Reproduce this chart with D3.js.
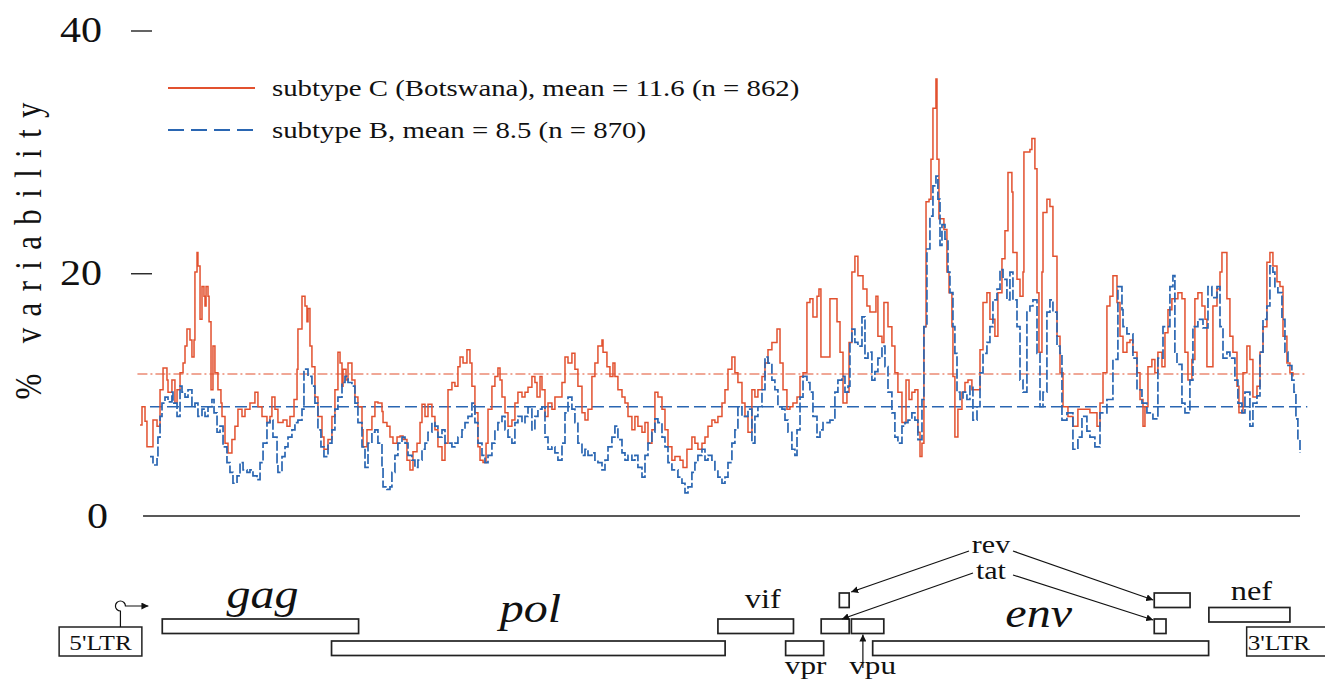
<!DOCTYPE html>
<html>
<head>
<meta charset="utf-8">
<script src="https://cdn.jsdelivr.net/npm/d3@7"></script>
<style>
  body { margin: 0; background: #fff; }
  svg { display: block; font-family: "Liberation Serif", "Times New Roman", serif; }
</style>
</head>
<body>
<div id="chart"></div>
<script>
// sliding-window variability along the HXB2 genome (position in nt)

// subtype C (Botswana)
const posC = [620,635,658,673,696,719,750,773,796,826,834,864,887,903,926,949,964,979,1002,1017,1033,1040,1056,1063,1079,1094,1109,1117,1125,1140,1148,1163,1178,1193,1216,1239,1247,1270,1293,1323,1346,1369,1400,1423,1461,1499,1522,1553,1591,1614,1629,1652,1675,1714,1744,1767,1798,1821,1828,1859,1882,1897,1905,1920,1935,1958,1981,2012,2027,2058,2088,2111,2134,2150,2165,2173,2196,2211,2241,2264,2287,2318,2326,2356,2394,2417,2440,2471,2479,2509,2532,2555,2586,2609,2632,2662,2685,2708,2739,2762,2777,2800,2823,2853,2876,2899,2930,2953,2976,3006,3029,3052,3068,3091,3121,3144,3159,3182,3205,3221,3244,3267,3282,3312,3335,3358,3374,3389,3412,3435,3465,3488,3511,3542,3565,3588,3618,3641,3657,3680,3695,3718,3741,3771,3794,3817,3848,3871,3894,3924,3947,3970,4001,4024,4047,4077,4100,4123,4154,4162,4192,4215,4238,4253,4276,4307,4330,4353,4383,4406,4429,4460,4483,4506,4536,4559,4582,4613,4636,4659,4689,4712,4751,4774,4804,4842,4865,4888,4919,4942,4965,4995,5018,5041,5072,5095,5118,5148,5171,5194,5225,5248,5271,5301,5324,5347,5378,5401,5424,5454,5493,5516,5539,5569,5592,5615,5646,5669,5692,5722,5745,5768,5799,5814,5829,5860,5898,5921,5952,5975,5998,6028,6044,6066,6089,6112,6151,6181,6204,6227,6250,6265,6296,6311,6342,6372,6395,6418,6449,6480,6503,6525,6548,6571,6587,6602,6617,6633,6656,6671,6686,6709,6717,6732,6755,6770,6793,6809,6831,6839,6854,6877,6908,6931,6954,6984,7023,7046,7069,7099,7122,7160,7183,7214,7237,7260,7290,7298,7329,7352,7375,7382,7428,7443,7466,7482,7497,7520,7528,7558,7581,7604,7635,7658,7681,7719,7757,7795,7834,7887,7941,7964,7987,8017,8040,8063,8094,8117,8140,8170,8193,8216,8247,8270,8293,8308,8331,8361,8384,8407,8438,8461,8484,8514,8560,8591,8614,8637,8667,8690,8713,8744,8767,8782,8805,8828,8859,8882,8897,8935,8958,8981,9012,9027,9058,9088,9111,9134,9165,9188,9211,9241,9264,9287,9318,9341,9364,9394,9417,9440];
const valC = [7.5,9.0,7.8,5.7,5.7,7.9,7.4,10.4,12.2,11.2,10.2,11.2,9.3,10.4,11.8,12.6,14.0,15.4,14.5,13.1,14.5,20.1,21.7,20.6,16.2,18.9,18.1,17.3,18.9,18.1,16.0,10.4,14.0,11.8,10.4,9.3,8.2,6.0,5.2,6.3,7.4,8.8,8.2,8.8,9.3,10.2,9.0,8.2,7.7,8.2,9.8,8.8,7.7,7.9,7.4,8.2,9.6,12.1,15.4,18.1,17.3,16.0,17.1,14.0,12.3,9.8,8.2,6.5,5.5,6.3,8.2,10.4,13.5,12.6,10.7,12.1,11.2,12.6,11.2,9.8,9.0,7.1,5.7,7.1,8.2,9.4,9.3,8.6,7.7,7.4,6.5,6.0,6.5,6.6,6.3,4.6,3.8,5.3,6.0,7.7,9.2,8.2,9.2,8.2,7.1,5.7,4.6,6.0,10.4,11.0,10.7,12.3,13.1,12.6,13.7,12.6,10.7,8.5,5.7,4.6,4.4,6.0,8.8,10.7,11.5,12.2,11.2,9.8,8.5,7.4,7.9,9.3,10.2,9.8,10.2,10.6,11.5,11.0,9.8,11.5,10.4,8.2,9.3,8.8,9.8,9.8,11.0,13.1,12.6,13.4,12.1,10.7,8.5,7.9,8.8,11.5,12.6,14.0,14.5,13.5,12.3,11.5,12.6,11.5,10.4,9.8,9.3,8.2,7.1,8.2,7.4,6.9,7.7,6.0,7.1,10.2,9.8,8.8,7.1,5.7,4.6,4.9,4.6,4.0,5.5,6.5,6.0,5.5,6.0,6.5,7.4,7.9,7.7,8.2,9.3,10.4,12.1,13.1,11.8,11.0,9.3,8.2,6.9,10.4,9.8,10.4,11.5,12.6,13.7,14.3,15.4,12.6,10.4,8.8,9.0,9.3,9.8,11.5,11.8,17.6,17.9,16.4,18.1,18.7,13.1,13.1,17.9,17.9,16.0,13.5,9.3,10.2,14.3,20.1,21.4,19.8,18.7,17.3,16.8,16.8,18.1,14.8,14.3,17.6,15.6,14.0,11.8,10.2,7.7,11.2,9.6,10.2,10.4,6.9,4.9,6.0,15.6,25.9,26.1,29.4,33.6,36.0,29.4,24.5,24.5,23.6,20.1,18.4,15.6,11.5,6.5,8.8,10.2,11.0,11.2,10.4,10.4,13.7,17.6,18.4,16.2,14.8,18.4,21.2,23.5,28.3,26.7,21.7,19.5,18.1,20.1,30.0,30.2,31.1,28.6,18.4,13.5,20.1,25.0,26.1,25.5,21.4,14.8,11.8,9.0,8.2,7.4,8.8,8.8,8.5,7.4,9.3,11.8,17.3,18.1,19.8,17.6,14.8,13.5,14.3,14.5,13.5,11.8,9.6,7.4,9.0,12.3,12.9,11.8,13.5,12.3,15.1,17.0,17.9,18.4,17.9,13.5,11.2,12.9,17.9,18.4,17.3,16.2,12.3,12.3,17.3,18.7,20.1,21.7,17.9,14.8,13.5,10.7,8.5,11.8,14.0,12.9,9.8,10.7,13.5,15.6,20.9,21.7,20.6,19.3,18.9,14.8,12.6,11.8,11.5];

// subtype B
const posB = [696,719,750,757,773,788,811,834,864,872,903,926,941,964,987,1017,1040,1063,1094,1117,1140,1170,1186,1209,1232,1255,1285,1308,1331,1362,1385,1408,1438,1461,1484,1515,1538,1561,1591,1614,1637,1668,1675,1706,1729,1752,1782,1805,1828,1859,1874,1905,1935,1958,1981,2004,2027,2058,2088,2111,2134,2165,2188,2211,2241,2264,2287,2318,2341,2364,2394,2417,2440,2471,2479,2509,2532,2547,2570,2593,2624,2647,2670,2700,2723,2746,2777,2800,2823,2853,2876,2899,2930,2953,2976,3006,3029,3052,3083,3106,3129,3159,3182,3205,3236,3259,3282,3312,3335,3358,3389,3412,3435,3465,3488,3511,3542,3565,3588,3618,3641,3664,3695,3718,3741,3771,3794,3817,3848,3871,3894,3924,3947,3970,4001,4024,4047,4077,4100,4123,4154,4177,4200,4230,4253,4276,4307,4330,4353,4383,4406,4429,4460,4483,4506,4536,4559,4582,4613,4636,4659,4689,4712,4735,4766,4789,4812,4842,4865,4888,4919,4942,4965,4995,5018,5041,5072,5095,5118,5148,5171,5194,5225,5248,5271,5301,5324,5347,5378,5401,5424,5454,5477,5500,5531,5554,5577,5607,5630,5646,5669,5692,5722,5745,5768,5799,5822,5845,5875,5898,5936,5959,5990,6013,6036,6051,6066,6089,6112,6143,6166,6189,6219,6242,6265,6296,6319,6342,6372,6395,6418,6449,6472,6495,6525,6548,6571,6602,6617,6640,6663,6686,6709,6724,6740,6755,6778,6801,6816,6839,6854,6870,6893,6916,6946,6969,6992,7023,7046,7069,7099,7122,7145,7176,7199,7222,7252,7275,7298,7329,7352,7375,7405,7428,7451,7482,7505,7528,7558,7581,7604,7635,7658,7673,7711,7757,7795,7826,7864,7887,7925,7964,8017,8063,8101,8132,8140,8170,8216,8247,8285,8323,8369,8407,8446,8499,8522,8537,8553,8591,8614,8652,8675,8713,8752,8790,8820,8859,8882,8905,8935,8958,8996,9019,9050,9073,9111,9134,9165,9188,9211,9241,9264,9287,9302,9325,9356,9379,9402,9432,9448,9463,9478,9494];
const valB = [4.9,4.2,4.9,6.5,8.2,9.3,9.8,9.4,10.2,9.3,8.2,10.7,10.2,9.8,10.4,9.0,9.3,8.2,8.8,8.2,9.0,9.6,8.5,6.9,7.4,5.7,4.4,3.6,2.7,3.3,4.4,3.8,3.6,3.8,3.3,3.0,4.4,6.0,7.7,7.9,6.5,4.4,3.6,4.9,5.7,6.5,7.1,7.7,7.9,8.8,12.1,11.5,10.7,9.3,7.1,5.7,4.9,6.0,7.1,8.8,9.8,11.0,11.5,11.0,10.7,9.3,7.7,5.7,4.0,6.0,6.9,7.1,6.0,4.0,2.4,2.2,2.4,3.6,5.0,6.0,6.5,6.0,5.0,4.6,4.0,4.6,5.5,6.0,6.9,7.7,7.4,6.5,7.1,6.0,6.0,5.7,6.0,6.5,7.1,7.7,8.2,9.3,7.7,6.0,5.0,4.4,5.0,6.0,7.1,7.7,8.2,7.1,6.5,6.0,7.7,8.2,7.7,8.2,9.0,7.1,8.2,8.8,9.0,6.5,5.5,5.7,5.2,4.6,6.0,8.5,9.8,8.8,7.7,6.0,5.0,5.5,5.0,5.2,4.6,4.4,3.8,4.6,5.7,6.5,7.4,6.3,5.2,4.6,5.0,4.6,5.0,4.0,3.2,5.0,6.0,6.9,8.0,7.7,6.5,5.7,4.4,3.8,3.8,3.2,2.7,1.9,2.4,3.6,4.4,5.0,5.5,4.6,5.0,4.6,3.8,3.2,2.7,3.2,4.4,6.0,7.1,9.0,8.2,8.2,8.8,6.0,8.2,9.0,10.4,13.1,12.6,11.2,10.4,9.0,8.8,7.9,6.9,5.5,5.0,7.1,9.8,11.5,11.0,10.2,8.2,6.5,7.1,7.7,7.7,7.9,10.2,11.2,11.5,10.2,10.7,14.3,15.4,14.3,14.0,16.4,13.0,13.5,11.2,11.9,13.0,14.0,12.3,10.2,8.5,6.5,6.0,7.4,7.7,7.9,8.5,7.9,6.3,9.6,15.6,22.0,24.7,27.2,28.0,26.1,22.3,24.0,22.8,20.1,18.4,15.6,13.4,10.2,9.6,10.2,9.6,10.7,7.9,9.0,11.8,13.4,14.3,15.6,17.8,18.7,20.3,19.5,17.8,20.1,17.8,15.6,11.2,10.2,16.8,17.3,17.8,13.4,9.0,10.2,16.8,17.8,16.8,14.0,13.4,7.9,8.5,5.5,6.5,8.2,7.0,6.5,5.7,8.5,9.6,12.9,18.9,17.0,15.6,15.0,13.0,10.4,9.3,8.5,8.0,13.0,15.6,18.9,19.8,13.5,12.5,9.3,8.5,11.2,15.6,16.2,15.5,18.9,18.0,18.9,15.6,13.0,13.5,13.0,11.2,9.3,8.5,10.2,7.4,9.3,9.9,13.5,16.2,17.3,20.6,20.1,18.9,18.4,16.2,13.5,12.4,11.2,10.2,8.0,6.3,5.2];

// means (legend) and the level at which the figure draws the mean lines
const meanC = 11.6, nC = 862;
const meanB = 8.5, nB = 870;
const meanLevelC = 11.7;
const meanLevelB = 9.0;

const yTicks = [0, 20, 40];

// genome map (HXB2 coordinates)
const orfNames = ["gag", "pol", "vif", "vpr", "tat", "rev", "vpu", "env", "tat", "rev", "nef"];
const orfStart = [790, 2085, 5041, 5559, 5831, 5970, 6062, 6225, 8379, 8379, 8797];
const orfEnd   = [2292, 5096, 5619, 5850, 6045, 6045, 6310, 8795, 8469, 8653, 9417];
const ltrNames = ["5'LTR", "3'LTR"];
const ltrStart = [1, 9086];
const ltrEnd   = [634, 9719];

const red = "#e2512f";
const blue = "#2a66b2";

const width = 1325, height = 679;

const svg = d3.select("#chart")
    .append("svg")
    .attr("width", width)
    .attr("height", height);

const x = d3.scaleLinear().domain([0, 9719]).range([59, 1329.4]);
const y = d3.scaleLinear().domain([0, 40]).range([516, 30.5]);

// the original figure is printed a bit wide; stretch text the same way
function widen(sel, k) {
    sel.each(function() {
        const w = this.getComputedTextLength();
        d3.select(this).attr("textLength", w * k).attr("lengthAdjust", "spacingAndGlyphs");
    });
}

svg.append("defs").append("marker")
    .attr("id", "arrow")
    .attr("viewBox", "0 0 10 10")
    .attr("refX", 10).attr("refY", 5)
    .attr("markerWidth", 7).attr("markerHeight", 7)
    .attr("markerUnits", "userSpaceOnUse")
    .attr("orient", "auto")
    .append("path")
    .attr("d", "M0,0 L10,5 L0,10 z")
    .attr("fill", "#111");

// y axis: numbers and short dashes, no spine
const yAxis = d3.axisLeft(y)
    .tickValues(yTicks)
    .tickSize(21)
    .tickPadding(29)
    .tickFormat(d3.format("d"));

const gy = svg.append("g")
    .attr("transform", "translate(152,0)")
    .call(yAxis);
gy.select(".domain").remove();
gy.selectAll(".tick line").attr("stroke", "#222").attr("stroke-width", 1.4);
gy.selectAll(".tick").filter(d => d === 0).select("line").remove();
gy.selectAll(".tick text")
    .attr("font-family", "Liberation Serif, serif")
    .attr("font-size", 35)
    .attr("fill", "#111");
gy.selectAll(".tick").filter(d => d === 0).select("text").attr("x", -44);
widen(gy.selectAll(".tick text"), 1.2);

// y label
svg.append("text")
    .attr("transform", "translate(41,251) scale(1.2,1) rotate(-90)")
    .attr("text-anchor", "middle")
    .attr("font-size", 31)
    .attr("fill", "#111")
    .attr("textLength", 297)
    .attr("lengthAdjust", "spacing")
    .text("% variability");

// baseline
const allPos = posC.concat(posB);
svg.append("line")
    .attr("x1", x(d3.min(allPos)) + 3)
    .attr("x2", x(d3.max(allPos)))
    .attr("y1", y(0)).attr("y2", y(0))
    .attr("stroke", "#222")
    .attr("stroke-width", 1.6);

// mean lines
svg.append("line")
    .attr("x1", x(600)).attr("x2", x(9550))
    .attr("y1", y(meanLevelC)).attr("y2", y(meanLevelC))
    .attr("stroke", red)
    .attr("stroke-width", 1.1)
    .attr("stroke-dasharray", "10,3,2,3");

svg.append("line")
    .attr("x1", x(696)).attr("x2", x(9550))
    .attr("y1", y(meanLevelB)).attr("y2", y(meanLevelB))
    .attr("stroke", blue)
    .attr("stroke-width", 1.7)
    .attr("stroke-dasharray", "12,5");

// series
const line = d3.line()
    .x(d => x(d[0]))
    .y(d => y(d[1]))
    .curve(d3.curveStepAfter);

svg.append("path")
    .datum(d3.zip(posC, valC))
    .attr("fill", "none")
    .attr("stroke", red)
    .attr("stroke-width", 1.5)
    .attr("d", line);

svg.append("path")
    .datum(d3.zip(posB, valB))
    .attr("fill", "none")
    .attr("stroke", blue)
    .attr("stroke-width", 1.7)
    .attr("stroke-dasharray", "10,2.5")
    .attr("d", line);

// legend
const legend = svg.append("g");
legend.append("line")
    .attr("x1", 168).attr("x2", 255).attr("y1", 88).attr("y2", 88)
    .attr("stroke", red).attr("stroke-width", 2);
legend.append("line")
    .attr("x1", 168).attr("x2", 255).attr("y1", 130).attr("y2", 130)
    .attr("stroke", blue).attr("stroke-width", 2)
    .attr("stroke-dasharray", "16,7");
const legendText = legend.selectAll("text.leg")
    .data([
        `subtype C (Botswana), mean = ${meanC} (n = ${nC})`,
        `subtype B, mean = ${meanB} (n = ${nB})`
    ])
    .enter()
    .append("text")
    .attr("class", "leg")
    .attr("x", 272)
    .attr("y", (d, i) => 96 + i * 42)
    .attr("font-size", 24)
    .attr("fill", "#111")
    .text(d => d);
widen(legendText, 1.2);

// genome map
const rowTop = { gag: 619, pol: 641, vif: 619, vpr: 641, tat: 619, rev: 593, vpu: 619, env: 641, nef: 607.5 };
const boxH = 14.5;

const map = svg.append("g");

map.selectAll("rect.orf")
    .data(d3.range(orfNames.length))
    .enter()
    .append("rect")
    .attr("class", "orf")
    .attr("x", i => x(orfStart[i]))
    .attr("y", i => rowTop[orfNames[i]])
    .attr("width", i => x(orfEnd[i]) - x(orfStart[i]))
    .attr("height", boxH)
    .attr("fill", "#fff")
    .attr("stroke", "#222")
    .attr("stroke-width", 1.7);

map.selectAll("rect.ltr")
    .data(d3.range(ltrNames.length))
    .enter()
    .append("rect")
    .attr("class", "ltr")
    .attr("x", i => x(ltrStart[i]))
    .attr("y", 627)
    .attr("width", i => x(ltrEnd[i]) - x(ltrStart[i]))
    .attr("height", 29)
    .attr("fill", "#fff")
    .attr("stroke", "#222")
    .attr("stroke-width", 1.5);

const ltrText = map.selectAll("text.ltr")
    .data(d3.range(ltrNames.length))
    .enter()
    .append("text")
    .attr("class", "ltr")
    .attr("x", i => (x(ltrStart[i]) + x(Math.min(ltrEnd[i], 9580))) / 2)
    .attr("y", 650)
    .attr("text-anchor", "middle")
    .attr("font-size", 21)
    .attr("fill", "#111")
    .text(i => ltrNames[i]);
widen(ltrText, 1.2);

// gene names
const labelLayout = [
    { name: "gag", y: 608, size: 40, italic: true, dx: 2 },
    { name: "pol", y: 622, size: 40, italic: true, dx: 2 },
    { name: "vif", y: 608, size: 27, italic: false, dx: 7 },
    { name: "vpr", y: 674, size: 26, italic: false, dx: 1 },
    { name: "vpu", y: 674, size: 26, italic: false, dx: 5 },
    { name: "env", y: 627, size: 40, italic: true, dx: -2 },
    { name: "nef", y: 600, size: 27, italic: false, dx: 2 }
];
const geneText = map.selectAll("text.gene")
    .data(labelLayout)
    .enter()
    .append("text")
    .attr("class", "gene")
    .attr("x", d => {
        const i = orfNames.indexOf(d.name);
        return (x(orfStart[i]) + x(orfEnd[i])) / 2 + d.dx;
    })
    .attr("y", d => d.y)
    .attr("text-anchor", "middle")
    .attr("font-size", d => d.size)
    .attr("font-style", d => d.italic ? "italic" : "normal")
    .attr("fill", "#111")
    .text(d => d.name);
widen(geneText, 1.2);

// rev / tat share one label with arrows to both exons
const splitX = x(7130);
const splitText = map.selectAll("text.split")
    .data([{ name: "rev", y: 553 }, { name: "tat", y: 579 }])
    .enter()
    .append("text")
    .attr("class", "split")
    .attr("x", splitX)
    .attr("y", d => d.y)
    .attr("text-anchor", "middle")
    .attr("font-size", 25)
    .attr("fill", "#111")
    .text(d => d.name);
widen(splitText, 1.2);

const exon = (name, k) => {
    const idx = orfNames.map((n, i) => n === name ? i : -1).filter(i => i >= 0);
    return idx[k];
};
const rev1 = exon("rev", 0), rev2 = exon("rev", 1), tat2 = exon("tat", 1);
const arrows = [
    [splitX - 22, 551, x(orfEnd[rev1]) + 2, rowTop.rev - 1],
    [splitX + 22, 551, x(orfStart[rev2]) - 1, rowTop.rev + 7],
    [splitX - 18, 573, x(5990), rowTop.tat],
    [splitX + 22, 575, x(orfStart[tat2]) - 1, rowTop.tat + 1],
    [x(6150), 668, x(6150), rowTop.vpu + boxH + 1]
];
map.selectAll("line.arrow")
    .data(arrows)
    .enter()
    .append("line")
    .attr("class", "arrow")
    .attr("x1", d => d[0]).attr("y1", d => d[1])
    .attr("x2", d => d[2]).attr("y2", d => d[3])
    .attr("stroke", "#111")
    .attr("stroke-width", 1.2)
    .attr("marker-end", "url(#arrow)");

// promoter symbol above the 5'LTR
const px = x(470);
map.append("path")
    .attr("d", `M${px},627 V611 A5,5 0 1,1 ${px + 5},606 H${px + 28}`)
    .attr("fill", "none")
    .attr("stroke", "#111")
    .attr("stroke-width", 1.2)
    .attr("marker-end", "url(#arrow)");
</script>
</body>
</html>
